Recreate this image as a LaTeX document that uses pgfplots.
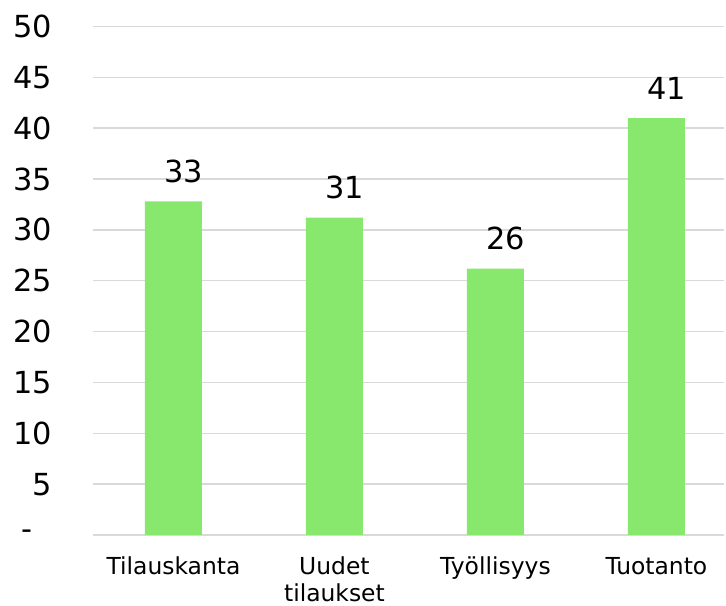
\documentclass[border=0pt]{standalone}
\usepackage{pgfplots}
\pgfplotsset{compat=1.18}
\usepackage{fontspec}
\setmainfont{DejaVu Sans}
\definecolor{barg}{RGB}{136,231,109}
\definecolor{gridg}{RGB}{217,217,217}
\begin{document}
\begin{tikzpicture}
\path[use as bounding box] (0,0) rectangle (726bp,606bp);
\begin{axis}[
 at={(93bp,71bp)}, anchor=south west,
 scale only axis, width=631bp, height=508.5bp,
 ybar,
 xmin=-0.5, xmax=3.42, ymin=0, ymax=50,
 ytick={0,5,...,50},
 yticklabels={-\hphantom{0},5,10,15,20,25,30,35,40,45,50},
 xtick={0,1,2,3},
 xticklabels={\strut Tilauskanta,\strut Uudet\\tilaukset,\strut Työllisyys,\strut Tuotanto},
 axis line style={draw=none},
 major tick length=0pt,
 ymajorgrids, grid style={gridg, line width=1.5bp},
 yticklabel style={font=\fontsize{30.5}{36}\selectfont, anchor=east, inner sep=0pt, xshift=-41bp},
 xticklabel style={font=\fontsize{23.5}{27.5}\selectfont, align=center, anchor=north, inner sep=0pt, yshift=-20bp},
 nodes near coords={\pgfmathprintnumber[fixed,precision=0,assume math mode=true]{\pgfplotspointmeta}},
 every node near coord/.append style={font=\fontsize{30.5}{36}\selectfont, text=black, anchor=base, yshift=19bp, xshift=10bp},
]
\addplot[fill=barg, draw=none, bar width=0.354] coordinates {(0,32.8) (1,31.2) (2,26.2) (3,41.0)};
\end{axis}
\end{tikzpicture}
\end{document}
